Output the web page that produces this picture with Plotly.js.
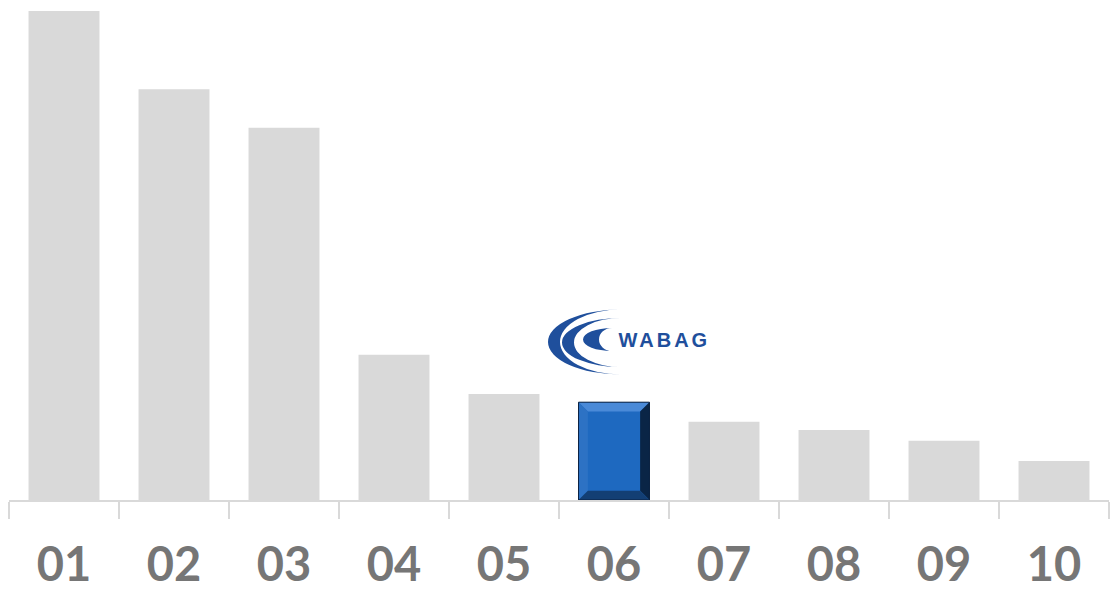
<!DOCTYPE html>
<html>
<head>
<meta charset="utf-8">
<script src="https://cdn.plot.ly/plotly-3.0.1.min.js"></script>
<style>html,body{margin:0;padding:0;background:#fff;}#chart{width:1115px;height:591px;}</style>
</head>
<body>
<div id="chart"></div>
<script>
// Data (relative values; first bar = 100)
const categories = ["01","02","03","04","05","06","07","08","09","10"];
const values = [100, 84.0, 76.1, 29.7, 21.7, 20.0, 16.0, 14.3, 12.1, 8.0];
const highlightIndex = 5;   // WABAG
const logoText = "WABAG";

const grey = "#d9d9d9";
const blue = "#1e69c0";
const barWidth = 0.645;

const colors = values.map((v, i) => i === highlightIndex ? blue : grey);

const trace = {
  type: "bar",
  x: categories,
  y: values,
  width: barWidth,
  marker: {color: colors, line: {width: 0}},
  hoverinfo: "x+y"
};

// bevel shapes for highlighted bar, built from its data value
const hv = values[highlightIndex];
const hx0 = highlightIndex - barWidth / 2, hx1 = highlightIndex + barWidth / 2;
const bx = 0.085, by = 1.9;
function poly(pts, fill) {
  return {type: "path", xref: "x", yref: "y", layer: "above",
    path: "M" + pts.map(p => p[0] + "," + p[1]).join(" L") + " Z",
    fillcolor: fill, line: {width: 0}};
}
const shapes = [
  poly([[hx0, hv], [hx1, hv], [hx1 - bx, hv - by], [hx0 + bx, hv - by]], "#4a8ad8"),
  poly([[hx0, hv], [hx0 + bx, hv - by], [hx0 + bx, by], [hx0, 0]], "#2d72c4"),
  poly([[hx1, hv], [hx1, 0], [hx1 - bx, by], [hx1 - bx, hv - by]], "#0a2546"),
  poly([[hx0, 0], [hx1, 0], [hx1 - bx, by], [hx0 + bx, by]], "#133f74"),
  {type: "rect", xref: "x", yref: "y", x0: hx0, x1: hx1, y0: 0, y1: hv, layer: "above",
    line: {color: "#0b2140", width: 1}, fillcolor: "rgba(0,0,0,0)"}
];

// crescent logo as an svg image
const logoSvg = '<svg xmlns="http://www.w3.org/2000/svg" viewBox="0 0 74 66" width="74" height="66">' +
  '<g fill="#1f4f9c">' +
  '<path d="M73,0.5 A73,32.5 0 0 0 73,65.5 A61,32.5 0 0 1 73,0.5 Z"/>' +
  '<path d="M73,9 A59,24.5 0 0 0 73,58 A47,24.5 0 0 1 73,9 Z"/>' +
  '<path d="M64,19 A29,11.5 0 0 0 64,42 A13,11.5 0 0 1 64,19 Z"/>' +
  '</g></svg>';
const logoSrc = "data:image/svg+xml;base64," + btoa(logoSvg);

const layout = {
  width: 1115, height: 591,
  margin: {l: 9, r: 6, t: 11, b: 91, pad: 0},
  paper_bgcolor: "#ffffff",
  plot_bgcolor: "#ffffff",
  showlegend: false,
  bargap: 0.355,
  xaxis: {
    type: "category",
    range: [-0.5, 9.5],
    showline: true, linecolor: grey, linewidth: 2,
    ticks: "outside", tickson: "boundaries", ticklen: 17, tickwidth: 2, tickcolor: grey,
    showgrid: false, zeroline: false,
    tickfont: {family: "Lato, 'Open Sans', sans-serif", size: 47, color: "#767676", weight: "bold"},
    ticklabelstandoff: 23
  },
  yaxis: {
    range: [0, 100],
    visible: false, showgrid: false, zeroline: false, fixedrange: true
  },
  shapes: shapes,
  images: [{
    source: logoSrc, xref: "paper", yref: "paper",
    x: (548 - 9) / 1100, y: (500 - 309) / 489,
    sizex: 74 / 1100, sizey: 66 / 489,
    xanchor: "left", yanchor: "top", sizing: "stretch", layer: "above"
  }],
  annotations: [{
    text: logoText, xref: "paper", yref: "paper",
    x: (624 - 9) / 1100, y: (500 - 340) / 489,
    xanchor: "left", yanchor: "middle", showarrow: false,
    font: {family: "'Liberation Sans Narrow', 'Liberation Sans', Arial, sans-serif", size: 20, color: "#1f4f9c", weight: "bold"}
  }]
};

Plotly.newPlot("chart", [trace], layout, {displayModeBar: false, staticPlot: true}).then(function () {
  document.querySelectorAll("#chart .annotation-text").forEach(function (t) {
    t.style.letterSpacing = "3px";
  });
});
</script>
</body>
</html>
